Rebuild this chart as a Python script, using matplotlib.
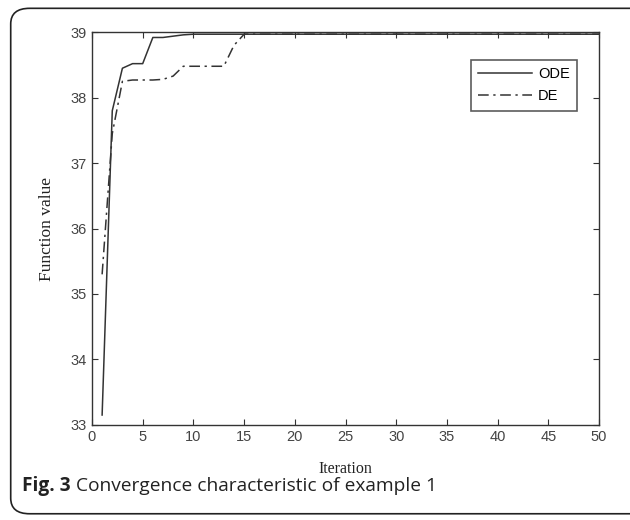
import numpy as np
import matplotlib.pyplot as plt
from matplotlib.patches import FancyBboxPatch

# Werte
iter_ode = np.arange(1, 51)
ode_werte = [33.15, 37.8, 38.45, 38.52, 38.52, 38.92, 38.92, 38.94, 38.96] + [38.97] * 41
iter_de = np.arange(1, 51)
de_werte = [35.3, 37.45, 38.25, 38.27, 38.27, 38.27, 38.28, 38.33, 38.48, 38.48,
            38.48, 38.48, 38.48, 38.8] + [38.97] * 36

x_ticks = np.arange(0, 51, 5)
y_ticks = np.arange(33, 40, 1)

fig = plt.figure(figsize=(6.3, 5.2), dpi=100)

# Rahmen um die ganze Abbildung
rahmen = FancyBboxPatch((0.017, 0.012), 1.2, 0.972, boxstyle="round,pad=0,rounding_size=0.03",
                        transform=fig.transFigure, facecolor='none', edgecolor='#222222',
                        linewidth=1.2, clip_on=False, zorder=-1)
fig.patches.append(rahmen)

ax = fig.add_axes([0.146, 0.183, 0.805, 0.755])
farbe = '#333333'
ax.plot(iter_ode, ode_werte, color=farbe, linewidth=1.1, label='ODE')
ax.plot(iter_de, de_werte, color=farbe, linewidth=1.1, linestyle=(0, (7, 3, 1.5, 3)), label='DE')

ax.set_xlim(0, 50)
ax.set_ylim(33, 39)
ax.set_xticks(x_ticks)
ax.set_yticks(y_ticks)
ax.tick_params(direction='in', top=True, right=True, length=4, colors=farbe,
               labelsize=10.5, labelcolor='#444444', pad=4)
for lab in ax.get_xticklabels() + ax.get_yticklabels():
    lab.set_family('Liberation Sans')
for s in ax.spines.values():
    s.set_color(farbe)
    s.set_linewidth(1.0)

ax.set_xlabel('Iteration', family='Liberation Serif', fontsize=11.5, color='#222222', labelpad=12)
ax.set_ylabel('Function value', family='Liberation Serif', fontsize=12.5, color='#222222', labelpad=11)

leg = ax.legend(loc='upper left', bbox_to_anchor=(0.7475, 0.929), fancybox=False,
                prop={'family': 'Liberation Sans', 'size': 10.5}, handlelength=3.7,
                borderpad=0.5, labelspacing=0.55, handletextpad=0.4, borderaxespad=0)
leg.get_frame().set_edgecolor(farbe)
leg.get_frame().set_linewidth(1.2)

# Bildunterschrift
t1 = fig.text(0.035, 0.055, 'Fig. 3', family='Open Sans', fontsize=13.8, fontweight='bold', color='#222222')
r = fig.canvas.get_renderer()
bb = t1.get_window_extent(renderer=r)
x2 = (bb.x1 + 5) / fig.bbox.width
fig.text(x2, 0.055, 'Convergence characteristic of example 1', family='Open Sans',
         fontsize=13.8, color='#222222')

fig.savefig('out.png', dpi=100)
